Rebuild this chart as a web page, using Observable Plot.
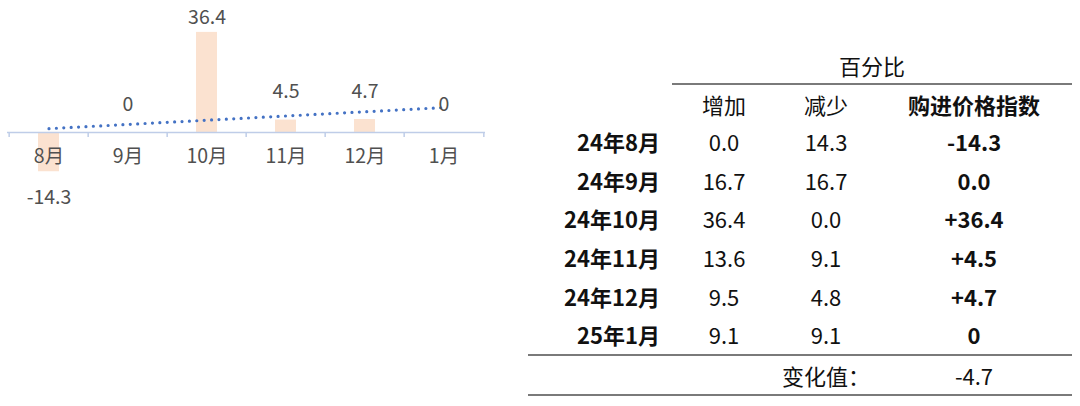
<!DOCTYPE html>
<html>
<head>
<meta charset="utf-8">
<script src="https://cdn.jsdelivr.net/npm/d3@7"></script>
<script src="https://cdn.jsdelivr.net/npm/@observablehq/plot@0.6"></script>
<style>
  html, body { margin: 0; padding: 0; background: #ffffff; }
  body { width: 1080px; height: 406px; position: relative; overflow: hidden; font-family: "Noto Sans CJK SC", "Noto Sans", sans-serif; }
  #chart { position: absolute; left: 0; top: 0; }
  #tbl { position: absolute; left: 528px; top: 44px; border-collapse: collapse; table-layout: fixed;
         font-family: "Noto Sans CJK SC", sans-serif; font-size: 22px; color: #111; }
  #tbl td { padding: 0; text-align: center; vertical-align: middle; line-height: 1; white-space: nowrap; }
  #tbl td.lab { text-align: right; padding-right: 12px; font-weight: 700; }
  #tbl td.b { font-weight: 700; }
  #tbl tr.top td { height: 36px; padding-top: 3px; }
  #tbl tr.top td.grp { border-bottom: 2px solid #7a7a7a; }
  #tbl tr.hdr td { height: 37px; }
  #tbl tr.row td { height: 38.6px; }
  #tbl tr.foot td { height: 38px; border-top: 2px solid #7a7a7a; border-bottom: 2px solid #7a7a7a; }
</style>
</head>
<body>
<div id="chart"></div>
<table id="tbl">
  <colgroup><col style="width:144px"><col style="width:104px"><col style="width:100px"><col style="width:196px"></colgroup>
  <tbody id="tbody"></tbody>
</table>
<script>
// ---- chart data ----
const months = ["8月", "9月", "10月", "11月", "12月", "1月"];
const indexValues = [-14.3, 0, 36.4, 4.5, 4.7, 0];

// ---- table data ----
const groupTitle = "百分比";
const columnTitles = ["增加", "减少", "购进价格指数"];
const rowLabels = ["24年8月", "24年9月", "24年10月", "24年11月", "24年12月", "25年1月"];
const increaseText = ["0.0", "16.7", "36.4", "13.6", "9.5", "9.1"];
const decreaseText = ["14.3", "16.7", "0.0", "9.1", "4.8", "9.1"];
const indexText = ["-14.3", "0.0", "+36.4", "+4.5", "+4.7", "0"];
const changeLabel = "变化值：";
const changeValue = "-4.7";

// ---- build chart ----
const data = months.map((m, i) => ({month: m, value: indexValues[i], i}));
const maxV = d3.max(indexValues);

// linear trend line (least squares over month index)
const mx = d3.mean(data, d => d.i), my = d3.mean(data, d => d.value);
const slope = d3.sum(data, d => (d.i - mx) * (d.value - my)) / d3.sum(data, d => (d.i - mx) ** 2);
const trend = data.map(d => ({month: d.month, value: my + slope * (d.i - mx)}));

const W = 500, mL = 7, mR = 15;
const bw = (W - mL - mR) / months.length;
const axisColor = "#bfcde8";
const labelColor = "#505050";
const fs = 19.5;

const chart = Plot.plot({
  width: W, height: 210,
  marginLeft: mL, marginRight: mR, marginTop: 0, marginBottom: 0,
  x: {domain: months, padding: 0, axis: null},
  y: {domain: [-28.4, 48], axis: null},
  style: {fontFamily: '"Noto Sans CJK SC", sans-serif', fontSize: fs + "px", color: labelColor, background: "transparent", overflow: "visible"},
  marks: [
    Plot.barY(data, {x: "month", y: "value", fill: "#fbe2d0", insetLeft: 29, insetRight: 29}),
    Plot.ruleY([0], {stroke: axisColor, strokeWidth: 1.5}),
    Plot.ruleX(data, {x: "month", y1: 0, y2: 0, dx: -bw / 2, insetBottom: -5, stroke: axisColor, strokeWidth: 1.5}),
    Plot.ruleX(data.slice(-1), {x: "month", y1: 0, y2: 0, dx: bw / 2, insetBottom: -5, stroke: axisColor, strokeWidth: 1.5}),
    Plot.line(trend, {x: "month", y: "value", stroke: "#4472c4", strokeWidth: 3.2, strokeDasharray: "0 7.4", strokeLinecap: "round"}),
    Plot.text(data, {x: "month", y: 0, text: "month", dy: 24, fill: labelColor, fontSize: fs}),
    Plot.text(data.filter(d => d.value >= 0 && d.value < maxV), {x: "month", y: "value", text: d => String(d.value), dy: -28, fill: labelColor, fontSize: fs}),
    Plot.text(data.filter(d => d.value === maxV), {x: "month", y: "value", text: d => String(d.value), dy: -15, fill: labelColor, fontSize: fs}),
    Plot.text(data.filter(d => d.value < 0), {x: "month", y: "value", text: d => String(d.value), dy: 26, fill: labelColor, fontSize: fs})
  ]
});
document.getElementById("chart").appendChild(chart);

// ---- build table ----
const tb = document.getElementById("tbody");
function td(text, cls, span) {
  const c = document.createElement("td");
  if (cls) c.className = cls;
  if (span) c.colSpan = span;
  c.textContent = text;
  return c;
}
let tr = document.createElement("tr"); tr.className = "top";
tr.appendChild(td("", ""));
tr.appendChild(td(groupTitle, "grp", 3));
tb.appendChild(tr);

tr = document.createElement("tr"); tr.className = "hdr";
tr.appendChild(td("", ""));
tr.appendChild(td(columnTitles[0], ""));
tr.appendChild(td(columnTitles[1], ""));
tr.appendChild(td(columnTitles[2], "b"));
tb.appendChild(tr);

rowLabels.forEach((lab, i) => {
  const r = document.createElement("tr"); r.className = "row";
  r.appendChild(td(lab, "lab"));
  r.appendChild(td(increaseText[i], ""));
  r.appendChild(td(decreaseText[i], ""));
  r.appendChild(td(indexText[i], "b"));
  tb.appendChild(r);
});

tr = document.createElement("tr"); tr.className = "foot";
tr.appendChild(td("", ""));
tr.appendChild(td("", ""));
tr.appendChild(td(changeLabel, ""));
tr.appendChild(td(changeValue, ""));
tb.appendChild(tr);
</script>
</body>
</html>
